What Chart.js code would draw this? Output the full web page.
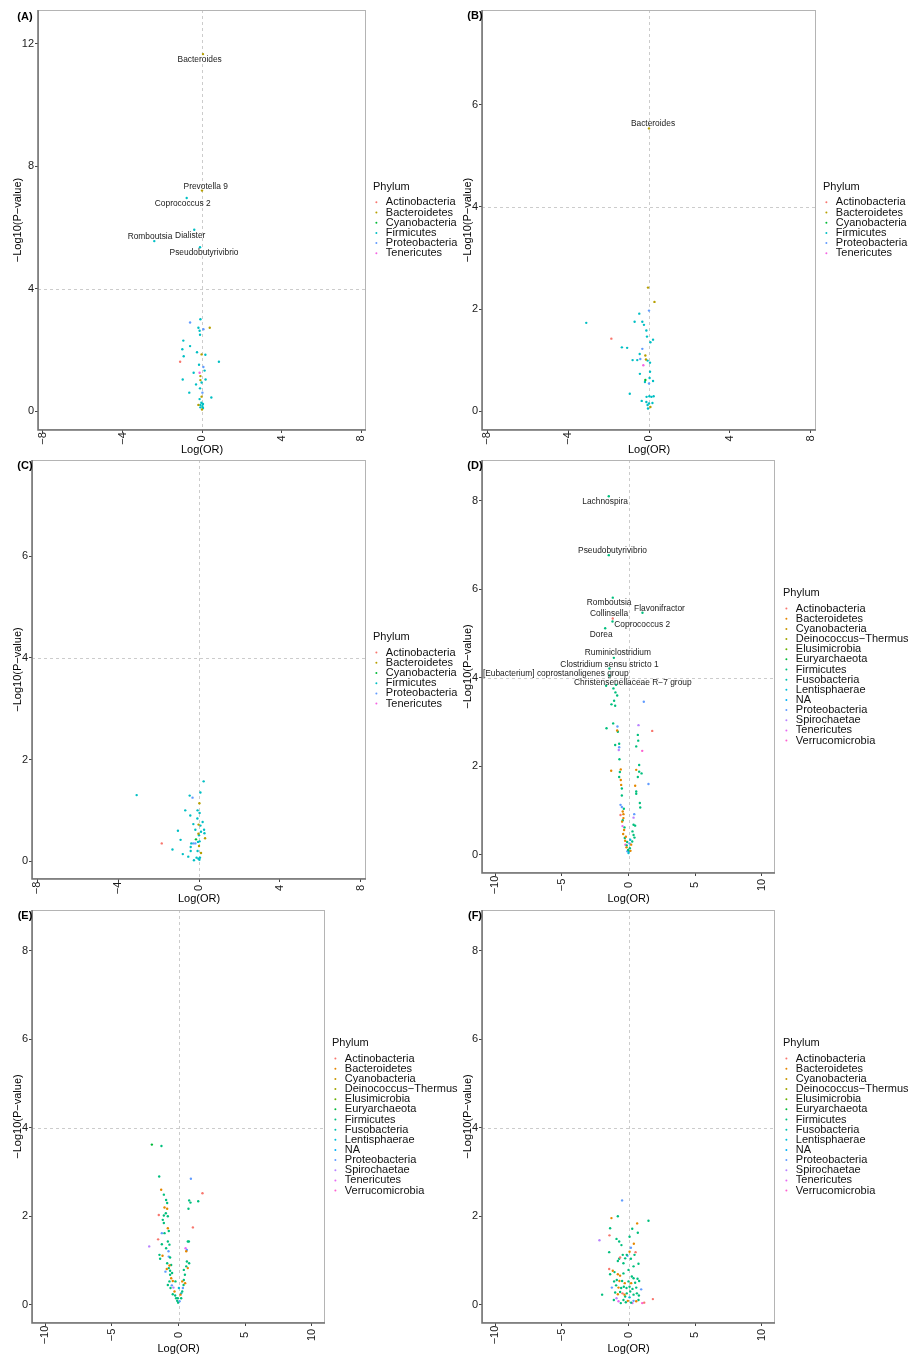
<!DOCTYPE html>
<html>
<head>
<meta charset="utf-8">
<script src="https://cdn.jsdelivr.net/npm/chart.js@4.4.0/dist/chart.umd.min.js"></script>
<style>
  body { margin: 0; background: #fff; }
  #page { position: relative; width: 908px; height: 1357px; overflow: hidden; }
  canvas { position: absolute; }
</style>
</head>
<body>
<div id="page">
  <canvas id="panelA" width="470" height="458" style="left:0;top:0"></canvas>
  <canvas id="panelB" width="454" height="458" style="left:454px;top:0"></canvas>
  <canvas id="panelC" width="470" height="452" style="left:0;top:455px"></canvas>
  <canvas id="panelD" width="454" height="452" style="left:454px;top:455px"></canvas>
  <canvas id="panelE" width="470" height="452" style="left:0;top:905px"></canvas>
  <canvas id="panelF" width="454" height="452" style="left:454px;top:905px"></canvas>
</div>
<script>
// phylum lists (legend order)
const phyla6 = ['Actinobacteria', 'Bacteroidetes', 'Cyanobacteria', 'Firmicutes', 'Proteobacteria', 'Tenericutes'];
const phyla14 = ['Actinobacteria', 'Bacteroidetes', 'Cyanobacteria', 'Deinococcus\u2212Thermus', 'Elusimicrobia',
  'Euryarchaeota', 'Firmicutes', 'Fusobacteria', 'Lentisphaerae', 'NA', 'Proteobacteria', 'Spirochaetae',
  'Tenericutes', 'Verrucomicrobia'];
const colors6 = ['#F8766D', '#B79F00', '#00BA38', '#00BFC4', '#619CFF', '#F564E3'];
const colors14 = ['#F8766D', '#E58700', '#C99800', '#A3A500', '#6BB100', '#00BA38', '#00BF7D',
  '#00C0AF', '#00BCD8', '#00B0F6', '#619CFF', '#B983FF', '#E76BF3', '#FD61D1'];

// tick labels
const ticksAy = [0, 4, 8, 12];
const ticksBCy = [0, 2, 4, 6];
const ticksDEFy = [0, 2, 4, 6, 8];
const ticksABCx = [-8, -4, 0, 4, 8];
const ticksDEFx = [-10, -5, 0, 5, 10];

// points: [Log(OR), -Log10(P-value), phylum index]
const pointsA = [
  [-0.60, 2.89, 4], [-0.08, 3.00, 3], [-0.18, 2.72, 3], [0.39, 2.72, 1], [0.07, 2.67, 4], [-0.12, 2.62, 3],
  [-0.10, 2.49, 3], [-0.94, 2.30, 3], [-0.60, 2.12, 3], [-0.99, 2.02, 3], [-0.25, 1.92, 3], [-0.02, 1.85, 1],
  [0.17, 1.84, 3], [-0.92, 1.79, 3], [-1.10, 1.61, 0], [0.85, 1.61, 3], [-0.15, 1.51, 3], [0.07, 1.44, 4],
  [0.13, 1.32, 3], [-0.42, 1.25, 3], [-0.12, 1.25, 5], [-0.08, 1.14, 1], [-0.97, 1.03, 3], [0.18, 1.03, 3],
  [-0.08, 1.01, 1], [-0.02, 0.93, 3], [-0.30, 0.87, 3], [-0.10, 0.74, 3], [-0.64, 0.60, 3], [0.02, 0.60, 4],
  [-0.02, 0.47, 1], [0.47, 0.44, 3], [-0.12, 0.39, 3], [-0.03, 0.27, 3], [-0.18, 0.20, 1], [-0.08, 0.20, 3],
  [0.02, 0.16, 3], [0.05, 0.10, 3], [0.00, 0.05, 1], [-0.08, 0.12, 3], [0.05, 0.23, 3]
];
const pointsB = [
  [-0.05, 2.42, 1], [0.27, 2.14, 1], [0.00, 1.97, 4], [-0.48, 1.91, 3], [-3.10, 1.73, 3], [-0.71, 1.75, 3],
  [-0.33, 1.75, 3], [-0.25, 1.69, 3], [-0.13, 1.58, 3], [-0.10, 1.46, 3], [-1.86, 1.42, 0], [0.20, 1.40, 3],
  [0.07, 1.35, 3], [-1.34, 1.25, 3], [-1.08, 1.24, 3], [-0.33, 1.22, 4], [-0.46, 1.12, 3], [-0.18, 1.09, 1],
  [-0.15, 1.01, 1], [-0.81, 1.00, 3], [-0.58, 1.00, 3], [-0.43, 1.02, 4], [-0.07, 0.99, 3], [0.05, 0.95, 3],
  [-0.28, 0.90, 5], [0.05, 0.77, 3], [-0.45, 0.73, 3], [0.03, 0.65, 3], [-0.18, 0.61, 2], [-0.20, 0.57, 3],
  [0.20, 0.59, 3], [0.00, 0.54, 4], [-0.95, 0.34, 3], [-0.12, 0.28, 3], [0.02, 0.29, 3], [0.12, 0.28, 3],
  [0.23, 0.29, 3], [-0.36, 0.20, 3], [-0.13, 0.18, 3], [0.00, 0.15, 3], [0.17, 0.16, 3], [0.07, 0.08, 1],
  [-0.05, 0.05, 3], [-0.07, 0.12, 3]
];
const pointsC = [
  [0.23, 1.57, 3], [0.07, 1.35, 3], [-3.08, 1.30, 3], [-0.46, 1.29, 3], [-0.32, 1.25, 4], [0.02, 1.14, 1],
  [-0.68, 1.00, 3], [-0.07, 1.00, 3], [0.03, 0.95, 3], [-0.43, 0.90, 3], [-0.08, 0.84, 3], [0.18, 0.77, 3],
  [-0.28, 0.73, 3], [-0.02, 0.72, 1], [0.07, 0.70, 3], [-0.18, 0.62, 3], [0.25, 0.62, 3], [-1.04, 0.60, 3],
  [0.10, 0.58, 3], [-0.03, 0.54, 1], [0.27, 0.55, 3], [0.00, 0.51, 3], [0.30, 0.45, 1], [-0.91, 0.42, 3],
  [-0.15, 0.43, 2], [-0.05, 0.38, 3], [0.03, 0.39, 3], [-1.84, 0.35, 0], [-0.28, 0.35, 4], [-0.38, 0.35, 3],
  [-0.18, 0.35, 4], [-0.41, 0.28, 3], [0.00, 0.30, 1], [-1.31, 0.23, 3], [-0.41, 0.20, 3], [-0.07, 0.20, 3],
  [0.10, 0.16, 1], [-0.80, 0.14, 3], [-0.53, 0.09, 3], [-0.12, 0.07, 3], [-0.03, 0.05, 3], [0.05, 0.07, 3],
  [-0.25, 0.02, 3], [0.02, 0.03, 3]
];
const pointsD = [
  [-1.13, 3.76, 6], [-0.93, 3.84, 6], [-0.98, 3.67, 6], [-0.85, 3.60, 6], [-1.08, 3.48, 6], [-1.28, 3.40, 6],
  [-1.00, 3.37, 6], [1.15, 3.46, 10], [-1.15, 2.97, 6], [-1.65, 2.86, 6], [-0.83, 2.90, 10], [-0.85, 2.81, 1],
  [-0.80, 2.78, 6], [0.75, 2.93, 11], [1.78, 2.80, 0], [0.70, 2.71, 6], [0.73, 2.58, 6], [-1.00, 2.48, 6],
  [-0.70, 2.51, 6], [-0.70, 2.43, 10], [-0.73, 2.37, 11], [0.58, 2.45, 6], [1.03, 2.35, 13], [-0.68, 2.16, 6],
  [-1.30, 1.90, 1], [-0.58, 1.93, 1], [-0.65, 1.87, 6], [0.80, 2.03, 6], [0.58, 1.92, 1], [0.80, 1.88, 6],
  [0.98, 1.84, 6], [0.70, 1.76, 6], [-0.70, 1.76, 6], [-0.58, 1.69, 1], [-0.55, 1.58, 1], [-0.50, 1.50, 6],
  [1.50, 1.60, 10], [0.50, 1.56, 1], [0.58, 1.43, 6], [0.58, 1.38, 6], [-0.50, 1.34, 6], [0.85, 1.17, 6],
  [0.88, 1.07, 6], [-0.60, 1.13, 10], [-0.50, 1.08, 10], [-0.43, 0.98, 1], [-0.35, 1.04, 6], [-0.38, 0.92, 1],
  [-0.60, 0.90, 0], [0.43, 0.92, 10], [0.38, 0.84, 11], [-0.38, 0.83, 1], [-0.43, 0.78, 6], [0.38, 0.68, 6],
  [0.50, 0.66, 6], [-0.45, 0.65, 12], [-0.33, 0.56, 1], [-0.40, 0.47, 1], [0.30, 0.53, 6], [0.38, 0.45, 6],
  [-0.20, 0.41, 1], [-0.25, 0.32, 1], [0.13, 0.34, 8], [0.08, 0.26, 10], [-0.13, 0.21, 6], [0.20, 0.23, 1],
  [-0.03, 0.11, 6], [0.05, 0.08, 8], [-0.15, 0.17, 1], [-0.10, 0.29, 6], [0.28, 0.30, 6], [0.10, 0.15, 6],
  [0.00, 0.04, 8], [-0.08, 0.08, 10], [0.15, 0.09, 1], [-0.23, 0.23, 13], [-0.28, 0.38, 6], [0.45, 0.39, 6],
  [-0.48, 0.75, 1], [-0.30, 0.62, 6]
];
const pointsE = [
  [-2.00, 3.62, 5], [-1.28, 3.59, 6], [-1.45, 2.90, 6], [-1.30, 2.60, 1], [-1.10, 2.49, 6], [-0.93, 2.37, 6],
  [-0.85, 2.30, 6], [-1.05, 2.20, 1], [-0.85, 2.17, 1], [-0.95, 2.07, 6], [-0.80, 2.00, 6], [-1.10, 2.02, 6],
  [-1.48, 2.03, 0], [-1.18, 1.92, 6], [-1.10, 1.85, 6], [-1.25, 1.62, 10], [-1.05, 1.62, 6], [-0.80, 1.73, 1],
  [-0.73, 1.67, 6], [-1.53, 1.48, 0], [-1.25, 1.37, 6], [-2.20, 1.32, 11], [-0.80, 1.43, 6], [-0.68, 1.36, 6],
  [-0.93, 1.28, 6], [-0.75, 1.21, 10], [-1.43, 1.13, 6], [-1.20, 1.11, 1], [-1.38, 1.04, 6], [-0.73, 1.09, 10],
  [-0.63, 1.07, 6], [-0.85, 0.94, 6], [-0.68, 0.89, 1], [-0.55, 0.90, 6], [-0.73, 0.83, 6], [-0.98, 0.75, 10],
  [-0.88, 0.81, 1], [-0.63, 0.77, 6], [-0.48, 0.72, 6], [-0.63, 0.68, 6], [-0.55, 0.60, 1], [-0.43, 0.54, 1],
  [-0.68, 0.53, 6], [-0.80, 0.45, 6], [-0.50, 0.44, 10], [-0.38, 0.39, 11], [-0.60, 0.38, 6], [-0.30, 0.30, 1],
  [-0.43, 0.24, 6], [-0.25, 0.21, 6], [-0.18, 0.15, 6], [-0.10, 0.09, 6], [-0.03, 0.05, 6], [0.08, 0.08, 10],
  [0.20, 0.15, 6], [0.15, 0.23, 1], [0.28, 0.30, 6], [0.33, 0.38, 10], [0.38, 0.45, 6], [0.28, 0.53, 1],
  [0.50, 0.49, 1], [0.40, 0.56, 6], [0.48, 0.68, 6], [0.40, 0.79, 6], [0.58, 0.87, 6], [0.63, 0.98, 6],
  [0.80, 0.94, 6], [0.70, 0.83, 1], [0.58, 1.21, 1], [0.63, 1.24, 10], [0.53, 1.28, 12], [0.70, 1.43, 6],
  [0.78, 1.43, 6], [1.08, 1.75, 0], [0.75, 2.17, 6], [0.80, 2.36, 6], [0.90, 2.31, 6], [1.48, 2.34, 6],
  [0.93, 2.85, 10], [1.80, 2.52, 0], [-0.23, 0.53, 6], [0.03, 0.38, 8], [0.20, 0.26, 8], [-0.05, 0.15, 6]
];
const pointsF = [
  [-0.48, 2.36, 10], [-1.28, 1.96, 1], [-0.80, 2.00, 6], [0.65, 1.84, 1], [1.50, 1.90, 6], [-1.38, 1.73, 6],
  [0.28, 1.72, 6], [0.70, 1.63, 6], [-1.43, 1.57, 0], [0.08, 1.54, 6], [-0.90, 1.49, 6], [-2.18, 1.46, 11],
  [-0.70, 1.43, 6], [0.40, 1.38, 1], [-0.53, 1.35, 6], [0.18, 1.29, 10], [-1.45, 1.19, 6], [0.53, 1.19, 0],
  [0.08, 1.20, 1], [-0.63, 1.07, 0], [-0.43, 1.13, 6], [-0.25, 1.05, 6], [-0.13, 1.13, 6], [-0.08, 1.11, 10],
  [0.18, 1.04, 6], [0.45, 1.13, 6], [-0.80, 0.99, 6], [-0.70, 1.04, 6], [-0.38, 0.94, 6], [0.75, 0.93, 6],
  [0.38, 0.87, 6], [-1.45, 0.81, 0], [-1.18, 0.77, 1], [-1.05, 0.74, 6], [-0.80, 0.69, 1], [-0.63, 0.66, 1],
  [-1.38, 0.69, 6], [-0.38, 0.71, 6], [0.00, 0.79, 6], [0.25, 0.64, 6], [0.38, 0.60, 6], [0.68, 0.59, 6],
  [-1.08, 0.53, 6], [-0.88, 0.56, 6], [-0.68, 0.54, 1], [-0.48, 0.54, 6], [-0.28, 0.49, 1], [0.00, 0.53, 6],
  [0.20, 0.49, 1], [0.50, 0.50, 6], [0.80, 0.54, 6], [-1.25, 0.39, 10], [-0.93, 0.44, 6], [-0.75, 0.39, 1],
  [-0.55, 0.38, 6], [-0.35, 0.41, 6], [-0.15, 0.38, 6], [0.08, 0.41, 6], [0.30, 0.36, 6], [0.58, 0.39, 6],
  [0.95, 0.35, 10], [-1.98, 0.23, 6], [-1.00, 0.28, 6], [-0.80, 0.24, 1], [-0.63, 0.29, 6], [-0.45, 0.26, 0],
  [-0.30, 0.23, 1], [-0.13, 0.26, 6], [0.13, 0.30, 6], [0.38, 0.23, 6], [0.63, 0.26, 6], [0.78, 0.21, 6],
  [-1.10, 0.11, 6], [-0.90, 0.15, 11], [-0.75, 0.08, 12], [-0.58, 0.04, 6], [-0.38, 0.11, 6], [-0.20, 0.06, 6],
  [-0.05, 0.09, 1], [0.20, 0.05, 6], [0.38, 0.09, 10], [0.58, 0.08, 1], [0.75, 0.11, 6], [1.03, 0.04, 13],
  [1.18, 0.05, 0], [1.83, 0.13, 0], [0.30, 0.04, 12], [0.08, 0.17, 8], [-0.25, 0.19, 6]
];

// labelled genera: [name, Log(OR), -Log10(P-value), phylum index]
const genusA = [
  ['Bacteroides', 0.05, 11.66, 1], ['Prevotella 9', 0.00, 7.20, 1], ['Coprococcus 2', -0.77, 6.96, 3],
  ['Dialister', -0.39, 5.92, 3], ['Romboutsia', -2.40, 5.55, 3], ['Pseudobutyrivibrio', -0.10, 5.35, 3]
];
const genusB = [['Bacteroides', 0.00, 5.54, 1]];
const genusD = [
  ['Lachnospira', -1.48, 8.10, 6], ['Pseudobutyrivibrio', -1.48, 6.77, 6], ['Romboutsia', -1.18, 5.81, 6],
  ['Flavonifractor', 1.05, 5.47, 6], ['Collinsella', -1.18, 5.34, 0], ['Coprococcus 2', -1.20, 5.27, 6],
  ['Dorea', -1.75, 5.12, 6], ['Ruminiclostridium', -1.10, 4.45, 6], ['Clostridium sensu stricto 1', -1.43, 4.21, 6],
  ['[Eubacterium] coprostanoligenes group', -1.43, 4.05, 6], ['Christensenellaceae R\u22127 group', -1.68, 3.82, 6]
];
// label offsets from their point, px
const genusOffsetA = [[-3.3, 5.7], [3.7, -4.4], [-4, 5.3], [-4, 5.7], [-4.3, -4.6], [4, 5]];
const genusOffsetB = [[4, -4.3]];
const genusOffsetD = [[-3.7, 5.3], [3.7, -4], [-3.7, 5], [17, -4.3], [-3.7, -4.7], [29.7, 3.3], [-4, 6],
  [4, -5], [0, -4], [-53.7, -2], [26.7, -3]];

const FONT = '"Liberation Sans", Arial, Helvetica, sans-serif';
const MINUS = '\u2212';

const panelDecor = {
  id: 'panelDecor',
  beforeDatasetsDraw(chart, args, o) {
    const {ctx, chartArea: a, scales: {x, y}} = chart;
    ctx.save();
    ctx.strokeStyle = '#cccccc';
    ctx.lineWidth = 1;
    ctx.setLineDash([3, 3]);
    const x0 = Math.round(x.getPixelForValue(0)) + 0.5;
    const y4 = Math.round(y.getPixelForValue(4)) + 0.5;
    ctx.beginPath();
    ctx.moveTo(x0, a.top); ctx.lineTo(x0, a.bottom);
    ctx.moveTo(a.left, y4); ctx.lineTo(a.right, y4);
    ctx.stroke();
    ctx.restore();
  },
  afterDraw(chart, args, o) {
    const {ctx, chartArea: a, scales: {x, y}} = chart;
    ctx.save();
    // panel border
    ctx.strokeStyle = '#b4b4b4';
    ctx.lineWidth = 1;
    ctx.strokeRect(a.left + 0.5, a.top + 0.5, a.right - a.left - 1, a.bottom - a.top - 1);
    ctx.strokeStyle = '#707070';
    ctx.lineWidth = 1.5;
    ctx.beginPath();
    ctx.moveTo(a.left, a.top); ctx.lineTo(a.left, a.bottom); ctx.lineTo(a.right, a.bottom);
    ctx.stroke();

    // rotated x tick labels
    ctx.fillStyle = '#1a1a1a';
    ctx.font = '11px ' + FONT;
    ctx.textAlign = 'center';
    ctx.textBaseline = 'middle';
    x.ticks.forEach(t => {
      const px = x.getPixelForValue(t.value);
      ctx.save();
      ctx.translate(px, a.bottom + o.xLabelOffset);
      ctx.rotate(-Math.PI / 2);
      ctx.fillText(String(t.value).replace('-', MINUS), 0, 0);
      ctx.restore();
    });

    // genus labels
    ctx.fillStyle = '#222';
    ctx.font = '8.4px ' + FONT;
    o.genus.forEach((g, i) => {
      const off = o.genusOffset[i];
      ctx.fillText(g[0], x.getPixelForValue(g[1]) + off[0], y.getPixelForValue(g[2]) + off[1]);
    });

    // legend
    const lg = o.legend;
    ctx.textAlign = 'left';
    ctx.fillStyle = '#111';
    ctx.font = '11px ' + FONT;
    ctx.fillText('Phylum', lg.x, lg.y);
    o.phyla.forEach((name, i) => {
      const yy = lg.y + 15.6 + i * lg.step;
      ctx.fillStyle = o.colors[i];
      ctx.beginPath();
      ctx.arc(lg.x + 3.4, yy, 1, 0, Math.PI * 2);
      ctx.fill();
      ctx.fillStyle = '#111';
      ctx.fillText(name, lg.x + 12.8, yy);
    });

    // panel tag
    ctx.font = 'bold 11px ' + FONT;
    ctx.textAlign = 'center';
    ctx.fillStyle = '#000';
    ctx.fillText(o.tag, o.tagPos[0], o.tagPos[1]);
    ctx.restore();
  }
};

function drawPanel(id, cfg) {
  const canvas = document.getElementById(id);
  const all = cfg.points.concat(cfg.genus.map(g => [g[1], g[2], g[3]]));
  const datasets = cfg.phyla.map((name, i) => ({
    label: name,
    data: all.filter(p => p[2] === i).map(p => ({x: p[0], y: p[1]})),
    backgroundColor: cfg.colors[i],
    borderWidth: 0,
    pointRadius: 1.2,
    pointHoverRadius: 1.2
  }));
  const tickFont = {family: FONT, size: 11};
  const titleFont = {family: FONT, size: 11};
  const grid = {display: true, drawOnChartArea: false, drawTicks: true, tickLength: 3, color: '#444'};

  new Chart(canvas, {
    type: 'scatter',
    data: {datasets},
    options: {
      responsive: false,
      animation: false,
      events: [],
      layout: {padding: {left: 0, bottom: 0, top: cfg.area.top, right: canvas.width - cfg.area.right}},
      plugins: {
        legend: {display: false},
        tooltip: {enabled: false},
        panelDecor: {
          tag: cfg.tag, tagPos: cfg.tagPos, legend: cfg.legend, phyla: cfg.phyla, colors: cfg.colors,
          genus: cfg.genus, genusOffset: cfg.genusOffset, xLabelOffset: cfg.xLabelOffset
        }
      },
      scales: {
        x: {
          type: 'linear',
          min: cfg.xRange[0], max: cfg.xRange[1],
          afterBuildTicks: s => { s.ticks = cfg.xTicks.map(v => ({value: v})); },
          afterFit: s => { s.height = canvas.height - cfg.area.bottom; s.paddingLeft = 0; s.paddingRight = 0; },
          ticks: {display: false},
          grid: grid,
          border: {display: false},
          title: {display: true, text: 'Log(OR)', font: titleFont, color: '#000', padding: {top: 0, bottom: 1.4}}
        },
        y: {
          type: 'linear',
          min: cfg.yRange[0], max: cfg.yRange[1],
          afterBuildTicks: s => { s.ticks = cfg.yTicks.map(v => ({value: v})); },
          afterFit: s => { s.width = cfg.area.left; s.paddingTop = 0; s.paddingBottom = 0; },
          ticks: {font: tickFont, color: '#1a1a1a', padding: 1},
          grid: grid,
          border: {display: false},
          title: {display: true, text: MINUS + 'Log10(P' + MINUS + 'value)', font: titleFont, color: '#000',
            padding: {top: cfg.yTitlePad, bottom: 0}}
        }
      }
    },
    plugins: [panelDecor]
  });
}

drawPanel('panelA', {
  points: pointsA, genus: genusA, genusOffset: genusOffsetA, phyla: phyla6, colors: colors6,
  area: {left: 38, right: 366, top: 10, bottom: 430}, xRange: [-8.25, 8.25], yRange: [-0.62, 13.1],
  xTicks: ticksABCx, yTicks: ticksAy, yTitlePad: 11.4, xLabelOffset: 8.5,
  legend: {x: 373, y: 186.7, step: 10.2}, tag: '(A)', tagPos: [25, 16.5]
});
drawPanel('panelB', {
  points: pointsB, genus: genusB, genusOffset: genusOffsetB, phyla: phyla6, colors: colors6,
  area: {left: 28, right: 362, top: 10, bottom: 430}, xRange: [-8.25, 8.25], yRange: [-0.37, 7.86],
  xTicks: ticksABCx, yTicks: ticksBCy, yTitlePad: 7.4, xLabelOffset: 8.5,
  legend: {x: 369, y: 186.7, step: 10.2}, tag: '(B)', tagPos: [21, 16]
});
drawPanel('panelC', {
  points: pointsC, genus: [], genusOffset: [], phyla: phyla6, colors: colors6,
  area: {left: 32, right: 366, top: 5, bottom: 424}, xRange: [-8.25, 8.25], yRange: [-0.35, 7.89],
  xTicks: ticksABCx, yTicks: ticksBCy, yTitlePad: 11.4, xLabelOffset: 9,
  legend: {x: 373, y: 182, step: 10.2}, tag: '(C)', tagPos: [25, 11]
});
drawPanel('panelD', {
  points: pointsD, genus: genusD, genusOffset: genusOffsetD, phyla: phyla14, colors: colors14,
  area: {left: 28, right: 321, top: 5, bottom: 418}, xRange: [-11, 11], yRange: [-0.41, 8.92],
  xTicks: ticksDEFx, yTicks: ticksDEFy, yTitlePad: 7.4, xLabelOffset: 12,
  legend: {x: 329, y: 138, step: 10.15}, tag: '(D)', tagPos: [21, 11]
});
drawPanel('panelE', {
  points: pointsE, genus: [], genusOffset: [], phyla: phyla14, colors: colors14,
  area: {left: 32, right: 325, top: 5, bottom: 418}, xRange: [-11, 11], yRange: [-0.41, 8.92],
  xTicks: ticksDEFx, yTicks: ticksDEFy, yTitlePad: 11.4, xLabelOffset: 12,
  legend: {x: 332, y: 138, step: 10.15}, tag: '(E)', tagPos: [25, 11]
});
drawPanel('panelF', {
  points: pointsF, genus: [], genusOffset: [], phyla: phyla14, colors: colors14,
  area: {left: 28, right: 321, top: 5, bottom: 418}, xRange: [-11, 11], yRange: [-0.41, 8.92],
  xTicks: ticksDEFx, yTicks: ticksDEFy, yTitlePad: 7.4, xLabelOffset: 12,
  legend: {x: 329, y: 138, step: 10.15}, tag: '(F)', tagPos: [21, 11]
});
</script>
</body>
</html>
